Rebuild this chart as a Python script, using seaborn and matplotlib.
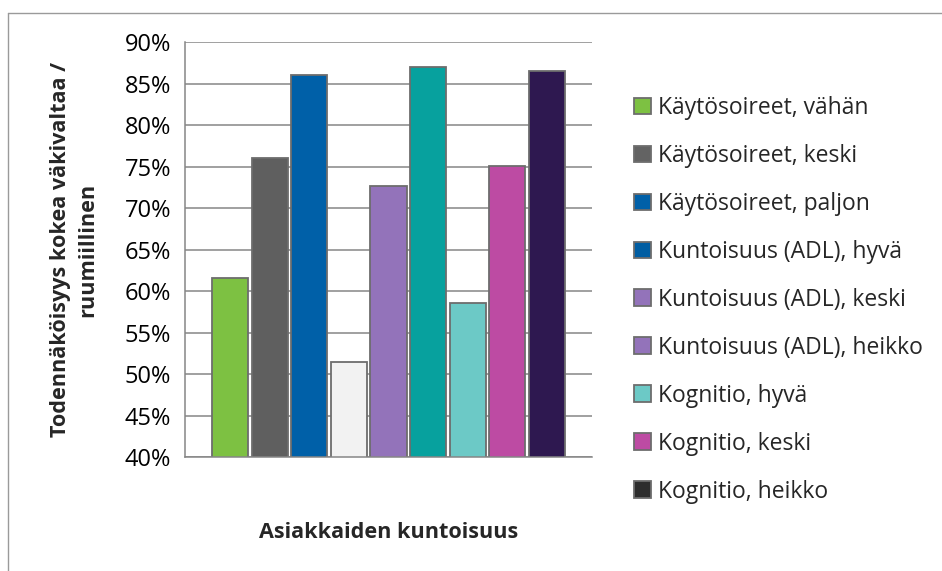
import pandas as pd
import matplotlib.pyplot as plt
import seaborn as sns
from matplotlib.patches import Patch
from matplotlib.lines import Line2D
from matplotlib.ticker import PercentFormatter

sns.set_style("white")
plt.rcParams['font.family'] = ['Open Sans', 'DejaVu Sans']

# Series shown as bars (one category, nine series)
series = [
    "Käytösoireet, vähän",
    "Käytösoireet, keski",
    "Käytösoireet, paljon",
    "Kuntoisuus (ADL), hyvä",
    "Kuntoisuus (ADL), keski",
    "Kuntoisuus (ADL), heikko",
    "Kognitio, hyvä",
    "Kognitio, keski",
    "Kognitio, heikko",
]
probability = [0.616, 0.760, 0.861, 0.515, 0.727, 0.870, 0.586, 0.751, 0.865]

bar_colors = ["#7DC142", "#5F5F5F", "#0060A8", "#F2F2F2", "#9373BA",
              "#07A19E", "#6CC9C6", "#BD4BA3", "#2E1850"]
# the original legend swatches do not all match the bars
legend_colors = ["#7DC142", "#636363", "#0060A8", "#005DA2", "#9373BA",
                 "#9373BA", "#6CC9C6", "#BD4BA3", "#2D2D2D"]

df = pd.DataFrame({"series": series, "value": probability})

fig = plt.figure(figsize=(9.42, 5.71), dpi=100)
ax = fig.add_axes([185 / 942, 1 - 457 / 571, 407 / 942, 414.7 / 571])

sns.barplot(data=df, x="series", y="value", hue="series",
            palette=dict(zip(series, bar_colors)), legend=False,
            width=0.91, edgecolor="#6D6D6D", linewidth=1.3, saturation=1, ax=ax)

grid_c = "#868686"
ax.set_ylim(0.40, 0.90)
ax.set_yticks([0.40 + 0.05 * i for i in range(11)])
ax.yaxis.set_major_formatter(PercentFormatter(1.0, decimals=0))
ax.set_xlim(-1.14, 9.14)
ax.set_xticks([-1.14, 9.14])
ax.set_xticklabels(["", ""])
ax.yaxis.grid(True, color=grid_c, linewidth=1.1)
ax.set_axisbelow(True)
for side in ["top", "right"]:
    ax.spines[side].set_visible(False)
for side in ["left", "bottom"]:
    ax.spines[side].set_color(grid_c)
    ax.spines[side].set_linewidth(1.1)
ax.tick_params(axis="both", direction="out", length=5, width=1.1, color=grid_c,
               labelsize=17, labelcolor="#000000", pad=5)

ax.set_ylabel("Todennäköisyys kokea väkivaltaa /\nruumiillinen", fontsize=15.6,
              fontweight="bold", va="center", linespacing=1.35)
ax.yaxis.set_label_coords(-111 / 407, 0.5)
ax.set_xlabel("Asiakkaiden kuntoisuus", fontsize=15.6, fontweight="bold", va="center")
ax.xaxis.set_label_coords(0.5, -75 / 414.7)

handles = [Patch(facecolor=c, edgecolor="#6D6D6D", linewidth=1.3) for c in legend_colors]
fig.legend(handles, series, loc="upper left", bbox_to_anchor=(634 / 942, 1 - 96 / 571),
           frameon=False, fontsize=16.5, handlelength=0.74, handleheight=0.74,
           handletextpad=0.3, labelspacing=1.045, borderpad=0, borderaxespad=0)

# outer chart frame (top and left edges visible)
fig.add_artist(Line2D([8 / 942, 8 / 942], [0, 1 - 13 / 571], color="#9A9A9A", linewidth=1))
fig.add_artist(Line2D([8 / 942, 1], [1 - 13 / 571, 1 - 13 / 571], color="#9A9A9A", linewidth=1))

fig.savefig("out.png", dpi=100)
